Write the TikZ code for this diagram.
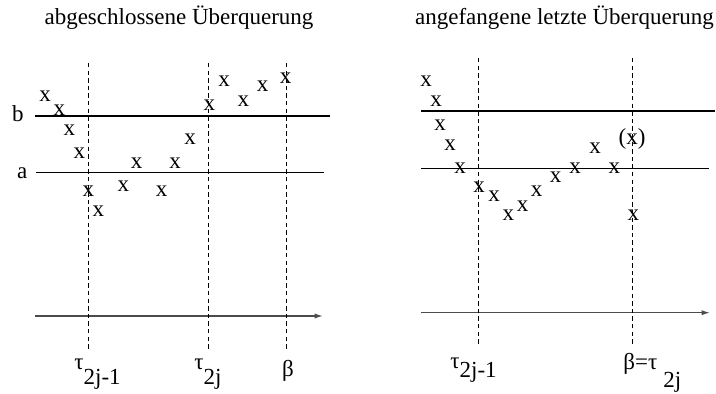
\documentclass[tikz,border=0pt]{standalone}
\usepackage{fontspec}
\setmainfont{Liberation Serif}
\usetikzlibrary{arrows.meta}
\tikzset{
  txt/.style={inner sep=0pt,font=\fontsize{11.5}{13}\selectfont},
  mk/.style={txt,anchor=center},
  lvl/.style={line width=0.75pt},
  tline/.style={line width=0.5pt,dash pattern=on 2.2pt off 1.6pt},
  axis/.style={line width=0.7pt,draw=black!70,-{Latex[length=4.2pt,width=2.6pt]}},
}
\begin{document}
\begin{tikzpicture}[x=0.5pt,y=-0.5pt]
\useasboundingbox (0,0) rectangle (716,394);
% titles
\node[txt,anchor=base] (t1) at (179,25) {abgeschlossene Überquerung};
\node[txt,anchor=base] (t2) at (564.5,25) {angefangene letzte Überquerung};
% left panel
\node[txt,anchor=base west] (lb) at (11.7,121.7) {b};
\node[txt,anchor=base west] (la) at (16.7,178.3) {a};
\coordinate (lb0) at (35,116);   \coordinate (lb1) at (330,116);
\coordinate (la0) at (36,172.5); \coordinate (la1) at (324,172.5);
\coordinate (lx0) at (35,316);   \coordinate (lx1) at (323,316);
\draw[lvl] (lb0) -- (lb1);
\draw[lvl] (la0) -- (la1);
\draw[axis] (lx0) -- (lx1);
\foreach \x/\n in {88/1,208.5/2,286/3}
  \draw[tline] (\x,63) coordinate (ld\n) -- (\x,349);
\foreach \x/\y [count=\i] in {45/96,59.3/110.7,69.3/130,79.3/153,88.3/191.7,98.3/211.7,
    123.3/186.7,136.7/163.3,161.7/191.7,175/163.3,190/139.3,209.3/105,224/81.7,
    243.3/101.7,262.7/86.7,285.7/78.3}
  \node[mk] (l\i) at (\x,\y) {x};
\node[txt,anchor=base west] (ltau1) at (74,370) {τ\raisebox{-7.5pt}{2j-1}};
\node[txt,anchor=base west] (ltau2) at (194,370) {τ\raisebox{-7.5pt}{2j}};
\node[txt,anchor=center] (lbeta) at (288,371) {β};
% right panel
\coordinate (rb0) at (421,111);   \coordinate (rb1) at (715,111);
\coordinate (ra0) at (421,168.3); \coordinate (ra1) at (709,168.3);
\coordinate (rx0) at (421,312.7); \coordinate (rx1) at (710,312.7);
\draw[lvl] (rb0) -- (rb1);
\draw[lvl] (ra0) -- (ra1);
\draw[axis] (rx0) -- (rx1);
\foreach \x/\n in {478.5/1,632.7/2}
  \draw[tline] (\x,58) coordinate (rd\n) -- (\x,344);
\foreach \x/\y [count=\i] in {426/81.7,436/101.7,440/125.7,450/145,460/168.3,479/187.3,
    494/196.7,508.3/215,522.7/206.7,536.7/191.7,555.7/177.3,575/168.3,595/148.3,
    614.3/168.3,633.3/215}
  \node[mk] (r\i) at (\x,\y) {x};
\node[txt,anchor=base] (rq) at (632,144.5) {(x)};
\node[txt,anchor=base west] (rtau1) at (450,369) {τ\raisebox{-4.5pt}{2j-1}};
\node[txt,anchor=base west] (rtau2) at (623,370) {β=τ\hspace{3pt}\raisebox{-9pt}{2j}};
\end{tikzpicture}
\end{document}
